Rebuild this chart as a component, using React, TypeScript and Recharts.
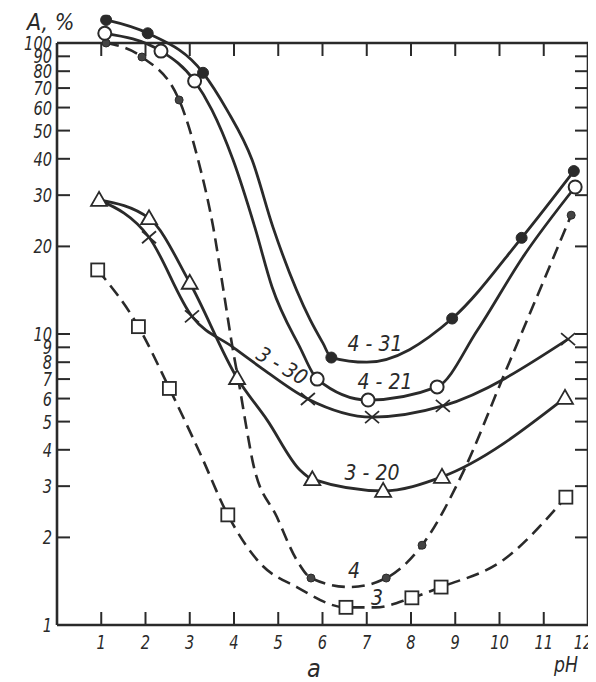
import React from "react";
import { ComposedChart, Line, XAxis, YAxis, ReferenceLine, ReferenceDot } from "recharts";

// ---- data ----
// m: 1 marks a measured point that carries a marker; other points trace the drawn curve
const series431 = [
  { x: 1.11, y: 120, m: 1 }, { x: 2.05, y: 108, m: 1 }, { x: 3.3, y: 79, m: 1 },
  { x: 3.84, y: 58.9 }, { x: 4.41, y: 39.6 }, { x: 4.88, y: 23.3 },
  { x: 5.72, y: 11.2 }, { x: 6.01, y: 9.3 }, { x: 6.2, y: 8.3, m: 1 }, { x: 7.0, y: 8.0 },
  { x: 8.93, y: 11.3, m: 1 }, { x: 10.5, y: 21.4, m: 1 }, { x: 11.68, y: 36.3, m: 1 },
];
const series421 = [
  { x: 1.08, y: 108, m: 1 }, { x: 2.35, y: 93.8, m: 1 }, { x: 3.11, y: 74, m: 1 },
  { x: 3.5, y: 58.9 }, { x: 3.98, y: 39.6 }, { x: 4.47, y: 23.3 }, { x: 4.86, y: 14.5 },
  { x: 5.49, y: 9.0 }, { x: 5.88, y: 7.0, m: 1 }, { x: 7.03, y: 5.93, m: 1 },
  { x: 8.59, y: 6.58, m: 1 }, { x: 9.5, y: 10.3 }, { x: 10.53, y: 18.4 }, { x: 11.71, y: 32, m: 1 },
];
const series330 = [
  { x: 0.95, y: 28.9 }, { x: 2.08, y: 21.5, m: 1 }, { x: 3.05, y: 11.5, m: 1 },
  { x: 3.98, y: 9.0 }, { x: 4.59, y: 7.7 }, { x: 5.67, y: 5.98, m: 1 }, { x: 7.12, y: 5.18, m: 1 },
  { x: 8.72, y: 5.66, m: 1 }, { x: 11.55, y: 9.6, m: 1 },
];
const series320 = [
  { x: 0.95, y: 28.9, m: 1 }, { x: 2.08, y: 25.0, m: 1 }, { x: 3.0, y: 15.0, m: 1 },
  { x: 4.07, y: 7.06, m: 1 }, { x: 4.75, y: 5.06 }, { x: 5.49, y: 3.41 }, { x: 5.77, y: 3.17, m: 1 },
  { x: 7.37, y: 2.89, m: 1 }, { x: 8.7, y: 3.23, m: 1 }, { x: 11.48, y: 6.03, m: 1 },
];
const series4 = [
  { x: 1.11, y: 100, m: 1 }, { x: 1.92, y: 89.5, m: 1 }, { x: 2.76, y: 63.7, m: 1 },
  { x: 3.19, y: 39.6 }, { x: 3.53, y: 23.3 }, { x: 3.75, y: 14.5 }, { x: 3.95, y: 9.3 },
  { x: 4.14, y: 6.4 }, { x: 4.29, y: 4.68 }, { x: 4.43, y: 3.6 }, { x: 4.97, y: 2.35 },
  { x: 5.42, y: 1.67 }, { x: 5.74, y: 1.45, m: 1 }, { x: 6.62, y: 1.35 }, { x: 7.44, y: 1.45, m: 1 },
  { x: 8.25, y: 1.88, m: 1 }, { x: 9.18, y: 3.36 }, { x: 10.08, y: 7.1 }, { x: 11.62, y: 25.6, m: 1 },
];
const series3 = [
  { x: 0.92, y: 16.6, m: 1 }, { x: 1.84, y: 10.6, m: 1 }, { x: 2.54, y: 6.5, m: 1 },
  { x: 3.23, y: 3.9 }, { x: 3.86, y: 2.39, m: 1 }, { x: 4.59, y: 1.63 }, { x: 5.42, y: 1.35 },
  { x: 6.53, y: 1.15, m: 1 }, { x: 7.2, y: 1.15 }, { x: 8.02, y: 1.24, m: 1 }, { x: 8.68, y: 1.35, m: 1 },
  { x: 10.08, y: 1.67 }, { x: 11.5, y: 2.75, m: 1 },
];

const xTicks = [1, 2, 3, 4, 5, 6, 7, 8, 9, 10, 11, 12];
const topTicks = [1, 2, 3, 4, 5, 6, 7, 8, 9, 10, 11];
const yTicks = [1, 2, 3, 4, 5, 6, 7, 8, 9, 10, 20, 30, 40, 50, 60, 70, 80, 90, 100];
const rightTicks = [2, 3, 4, 5, 6, 7, 8, 9, 10, 20, 30, 40, 50, 60, 70, 80, 90];
const xDomain = [0, 12];
const yDomain = [1, 125];
const frameTop = 100;

const INK = "#2a2a2a";
const FONT = '"Liberation Sans Narrow", "Arial Narrow", "DejaVu Sans Condensed", "DejaVu Sans", sans-serif';
const TICK_LEN = 13;
const DIGIT_W = 9.3;

const LeftTick = (p: any) => {
  const s = String(p.payload.value);
  return (
    <g>
      <line x1={p.x} x2={p.x + TICK_LEN} y1={p.y} y2={p.y} stroke={INK} strokeWidth={2} />
      <text x={p.x - 5} y={p.y + 7} textAnchor="end" fontFamily={FONT} fontStyle="italic"
        fontSize={19} fill={INK} textLength={s.length * DIGIT_W} lengthAdjust="spacingAndGlyphs">
        {s}
      </text>
    </g>
  );
};
const RightTick = (p: any) => (
  <line x1={p.x} x2={p.x - TICK_LEN} y1={p.y} y2={p.y} stroke={INK} strokeWidth={2} />
);
const BottomTick = (p: any) => {
  const s = String(p.payload.value);
  const last = p.payload.value === xTicks[xTicks.length - 1];
  return (
    <g>
      <line x1={p.x} x2={p.x} y1={p.y} y2={p.y - TICK_LEN} stroke={INK} strokeWidth={2} />
      <text x={last ? p.x - 5 : p.x} y={p.y + 24} textAnchor="middle" fontFamily={FONT} fontStyle="italic"
        fontSize={20} fill={INK} textLength={s.length * DIGIT_W} lengthAdjust="spacingAndGlyphs">
        {s}
      </text>
    </g>
  );
};

const marker = (kind: string) => (p: any) => {
  const key = `${kind}-${p.index}`;
  const { cx, cy } = p;
  if (!p.payload || !p.payload.m || cx == null || cy == null) return <g key={key} />;
  switch (kind) {
    case "filled":
      return <circle key={key} cx={cx} cy={cy} r={5.5} fill={INK} stroke={INK} strokeWidth={1} />;
    case "open":
      return <circle key={key} cx={cx} cy={cy} r={6.5} fill="#fff" stroke={INK} strokeWidth={2} />;
    case "cross":
      return (
        <g key={key} stroke={INK} strokeWidth={1.8}>
          <line x1={cx - 7} y1={cy - 6} x2={cx + 7} y2={cy + 6} />
          <line x1={cx - 7} y1={cy + 6} x2={cx + 7} y2={cy - 6} />
        </g>
      );
    case "triangle":
      return (
        <polygon key={key} points={`${cx},${cy - 8} ${cx - 8},${cy + 6} ${cx + 8},${cy + 6}`}
          fill="#fff" stroke={INK} strokeWidth={1.8} />
      );
    case "square":
      return <rect key={key} x={cx - 6.5} y={cy - 6.5} width={13} height={13} fill="#fff" stroke={INK} strokeWidth={1.8} />;
    default:
      return <circle key={key} cx={cx} cy={cy} r={4} fill="#444" stroke={INK} strokeWidth={1} />;
  }
};

const textStyle = { fontFamily: FONT, fontStyle: "italic" as const, fill: INK };

export default function App() {
  return (
    <div style={{ position: "relative", width: 588, height: 674 }}>
      <ComposedChart width={588} height={674} margin={{ top: 6.8, right: 0, bottom: 0, left: 0 }}>
        <XAxis type="number" dataKey="x" domain={xDomain} ticks={xTicks} interval={0}
          tickSize={0} tickMargin={0} tickLine={false} height={57}
          axisLine={{ stroke: INK, strokeWidth: 2.6 }} tick={(p: any) => <BottomTick {...p} />} />
        <YAxis type="number" scale="log" domain={yDomain} ticks={yTicks} interval={0} allowDataOverflow
          tickSize={0} tickMargin={0} tickLine={false} axisLine={false} width={49}
          tick={(p: any) => <LeftTick {...p} />} />
        <YAxis yAxisId="r" orientation="right" type="number" scale="log" domain={yDomain} ticks={rightTicks}
          interval={0} allowDataOverflow tickSize={0} tickMargin={0} tickLine={false} axisLine={false} width={8}
          tick={(p: any) => <RightTick {...p} />} />

        <ReferenceLine segment={[{ x: xDomain[0], y: 1 }, { x: xDomain[0], y: frameTop }]} stroke={INK} strokeWidth={2.6} />
        <ReferenceLine segment={[{ x: xDomain[1], y: 1 }, { x: xDomain[1], y: frameTop }]} stroke={INK} strokeWidth={2.6} />
        <ReferenceLine segment={[{ x: xDomain[0], y: frameTop }, { x: xDomain[1], y: frameTop }]} stroke={INK} strokeWidth={2.6} />
        {topTicks.map((t) => (
          <ReferenceDot key={`tt${t}`} x={t} y={frameTop} r={0}
            shape={(p: any) => <line x1={p.cx} x2={p.cx} y1={p.cy} y2={p.cy + TICK_LEN} stroke={INK} strokeWidth={2} />} />
        ))}

        <Line data={series3} dataKey="y" type="monotone" stroke={INK} strokeWidth={2.6} strokeDasharray="13 7"
          dot={marker("square")} activeDot={false} isAnimationActive={false} />
        <Line data={series4} dataKey="y" type="monotone" stroke={INK} strokeWidth={2.6} strokeDasharray="13 7"
          dot={marker("small")} activeDot={false} isAnimationActive={false} />
        <Line data={series330} dataKey="y" type="monotone" stroke={INK} strokeWidth={2.8}
          dot={marker("cross")} activeDot={false} isAnimationActive={false} />
        <Line data={series320} dataKey="y" type="monotone" stroke={INK} strokeWidth={2.8}
          dot={marker("triangle")} activeDot={false} isAnimationActive={false} />
        <Line data={series421} dataKey="y" type="monotone" stroke={INK} strokeWidth={2.8}
          dot={marker("open")} activeDot={false} isAnimationActive={false} />
        <Line data={series431} dataKey="y" type="monotone" stroke={INK} strokeWidth={2.8}
          dot={marker("filled")} activeDot={false} isAnimationActive={false} />
      </ComposedChart>
      <svg width={588} height={674} style={{ position: "absolute", left: 0, top: 0, pointerEvents: "none" }}>
        <text x={19} y={22} fontSize={23} {...textStyle}>A, %</text>
        <text x={306} y={669} fontSize={25} textAnchor="middle" {...textStyle}>a</text>
        <text x={546} y={664} fontSize={21} {...textStyle} textLength={24} lengthAdjust="spacingAndGlyphs">pH</text>
        <text x={367} y={343} fontSize={21} textAnchor="middle" {...textStyle}>4 - 31</text>
        <text x={377} y={381} fontSize={21} textAnchor="middle" {...textStyle}>4 - 21</text>
        <text x={364} y={472} fontSize={21} textAnchor="middle" {...textStyle}>3 - 20</text>
        <text x={274} y={365} fontSize={21} textAnchor="middle" transform="rotate(30 274 358)" {...textStyle}>3 - 30</text>
        <text x={346} y={570} fontSize={21} textAnchor="middle" {...textStyle}>4</text>
        <text x={369} y={597} fontSize={21} textAnchor="middle" {...textStyle}>3</text>
      </svg>
    </div>
  );
}
